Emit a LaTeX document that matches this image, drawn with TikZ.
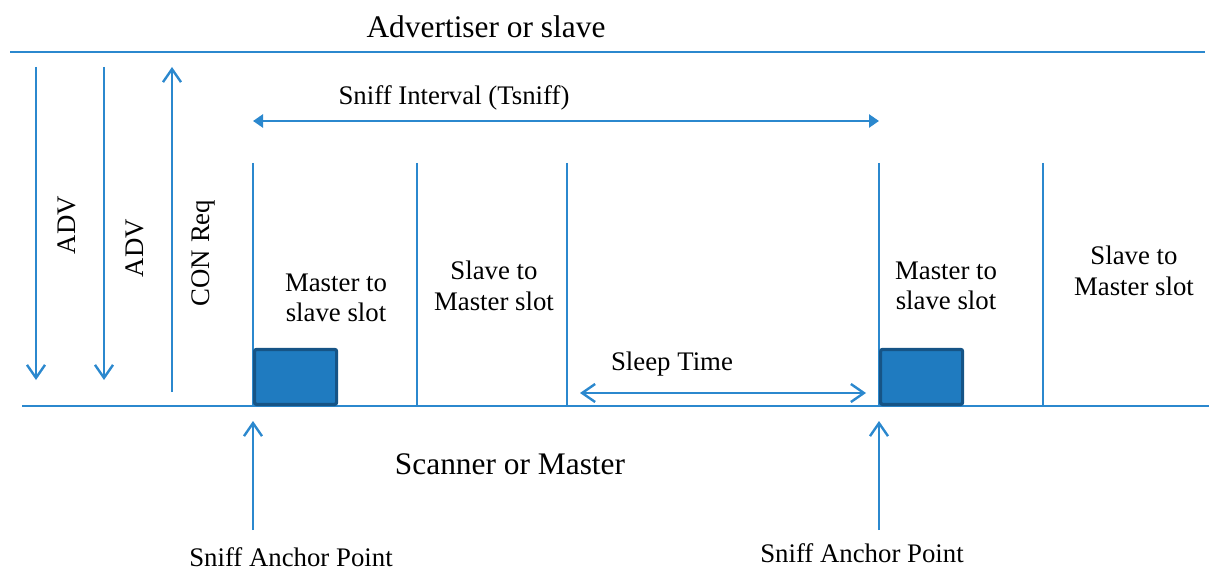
\documentclass[tikz,border=0pt]{standalone}
\usepackage{fontspec}
\setmainfont{Liberation Serif}
\usetikzlibrary{arrows.meta}
\definecolor{lineblue}{RGB}{43,136,206}
\definecolor{boxfill}{RGB}{31,123,192}
\definecolor{boxedge}{RGB}{22,84,134}
\tikzset{
  ln/.style={draw=lineblue, line width=1.25pt},
  vee/.style={ln, -{Straight Barb[length=6.5pt,width=9pt,line width=1.2pt]}},
  veeboth/.style={ln, {Straight Barb[length=6.5pt,width=9pt,line width=1.2pt]}-{Straight Barb[length=6.5pt,width=9pt,line width=1.2pt]}},
  triboth/.style={ln, {Triangle[length=5pt,width=6.5pt]}-{Triangle[length=5pt,width=6.5pt]}},
  slotbox/.style={draw=boxedge, fill=boxfill, line width=1.6pt, rounded corners=1pt},
  big/.style={font=\fontsize{15.7}{18}\selectfont, inner sep=0pt},
  small/.style={font=\fontsize{13.4}{15.2}\selectfont, inner sep=0pt, align=center},
}
\begin{document}
\begin{tikzpicture}[x=0.5pt,y=-0.5pt]
\useasboundingbox (0,0) rectangle (1209,572);
% axis lines
\coordinate (tl) at (10,52); \coordinate (tr) at (1205,52);
\coordinate (bl) at (22,406); \coordinate (br) at (1209,406);
\draw[ln] (tl) -- (tr);
\draw[ln] (bl) -- (br);
\node[big] (adv) at (486,27) {Advertiser or slave};
\node[big] (scan) at (510,464) {Scanner or Master};
% ADV / CON arrows
\coordinate (a1s) at (36,67); \coordinate (a1e) at (36,380);
\coordinate (a2s) at (104,67); \coordinate (a2e) at (104,380);
\coordinate (cs) at (172,392); \coordinate (ce) at (172,67);
\draw[vee] (a1s) -- (a1e);
\draw[vee] (a2s) -- (a2e);
\draw[vee] (cs) -- (ce);
\node[small, rotate=90] (adv1) at (67,225) {ADV};
\node[small, rotate=90] (adv2) at (135,248) {ADV};
\node[small, rotate=90] (con) at (203,253) {CON Req};
% slot lines
\foreach \x/\n in {253/s1,417/s2,567/s3,879/s4,1043/s5}{
  \coordinate (\n t) at (\x,163);
  \coordinate (\n b) at (\x,406);
  \draw[ln] (\n t) -- (\n b);
}
% boxes
\node[slotbox, minimum width=82*0.5pt, minimum height=55*0.5pt, anchor=south west] (box1) at (253,406) {};
\node[slotbox, minimum width=82*0.5pt, minimum height=55*0.5pt, anchor=south west] (box2) at (879,406) {};
% slot labels
\node[small] (m1) at (336,298) {Master to\\slave slot};
\node[small] (sl1) at (494,286) {Slave to\\Master slot};
\node[small] (m2) at (946,286) {Master to\\slave slot};
\node[small] (sl2) at (1134,271) {Slave to\\Master slot};
% sniff interval
\coordinate (si1) at (253,121); \coordinate (si2) at (879,121);
\draw[triboth] (si1) -- (si2);
\node[small] (sniff) at (454,98) {Sniff Interval (Tsniff)};
% sleep time
\coordinate (st1) at (580,393); \coordinate (st2) at (866,393);
\draw[veeboth] (st1) -- (st2);
\node[small] (sleep) at (672,364) {Sleep Time};
% anchor arrows
\coordinate (an1s) at (253,530); \coordinate (an1e) at (253,421);
\coordinate (an2s) at (879,530); \coordinate (an2e) at (879,421);
\draw[vee] (an1s) -- (an1e);
\draw[vee] (an2s) -- (an2e);
\node[small] (anc1) at (291,557) {Sniff Anchor Point};
\node[small] (anc2) at (862,553) {Sniff Anchor Point};
\end{tikzpicture}
\end{document}
